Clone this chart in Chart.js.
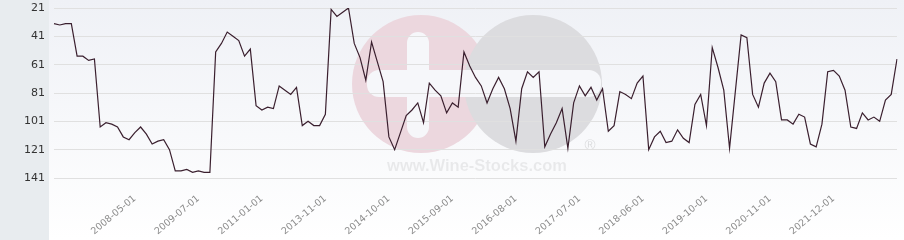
<!DOCTYPE html>
<html>
<head>
<meta charset="utf-8">
<script src="https://cdn.jsdelivr.net/npm/chart.js@4.4.0/dist/chart.umd.min.js"></script>
<style>
  html, body { margin: 0; padding: 0; background: #fff; }
  #wrap { width: 904px; height: 240px; }
</style>
</head>
<body>
<div id="wrap"><canvas id="rankChart" width="904" height="240"></canvas></div>
<script>
// dates of each ranking
const dates = [
  '2007-03-01','2007-04-01','2007-05-01','2007-06-01','2007-07-01','2007-08-01','2007-09-01','2007-10-01',
  '2007-11-01','2007-12-01','2008-01-01','2008-02-01','2008-03-01','2008-04-01','2008-05-01',
  '2008-06-01','2008-07-01','2008-08-01','2008-09-01','2008-10-01','2008-12-01','2009-01-01','2009-02-01',
  '2009-04-01','2009-05-01','2009-07-01',
  '2009-09-01','2009-10-01','2009-12-01','2010-01-01','2010-03-01','2010-05-01','2010-06-01','2010-08-01',
  '2010-09-01','2010-11-01','2011-01-01',
  '2011-04-01','2011-07-01','2011-10-01','2012-01-01','2012-04-01','2012-07-01','2012-10-01','2013-01-01',
  '2013-05-01','2013-08-01','2013-11-01',
  '2013-12-01','2014-01-01','2014-02-01','2014-03-01','2014-04-01','2014-05-01','2014-06-01','2014-07-01',
  '2014-08-01','2014-09-01','2014-10-01',
  '2014-11-01','2014-12-01','2015-01-01','2015-02-01','2015-03-01','2015-04-01','2015-05-01','2015-06-01',
  '2015-07-01','2015-08-01','2015-09-01',
  '2015-10-01','2015-11-01','2015-12-01','2016-01-01','2016-02-01','2016-03-01','2016-04-01','2016-05-01',
  '2016-06-01','2016-07-01','2016-08-01',
  '2016-09-01','2016-10-01','2016-11-01','2016-12-01','2017-01-01','2017-02-01','2017-03-01','2017-04-01',
  '2017-05-01','2017-06-01','2017-07-01',
  '2017-08-01','2017-09-01','2017-10-01','2017-11-01','2017-12-01','2018-01-01','2018-02-01','2018-03-01',
  '2018-04-01','2018-05-01','2018-06-01',
  '2018-07-01','2018-08-01','2018-10-01','2018-11-01','2019-01-01','2019-02-01','2019-04-01','2019-05-01',
  '2019-07-01','2019-08-01','2019-10-01',
  '2019-11-01','2019-12-01','2020-02-01','2020-03-01','2020-04-01','2020-05-01','2020-06-01','2020-07-01',
  '2020-08-01','2020-10-01','2020-11-01',
  '2020-12-01','2021-01-01','2021-02-01','2021-03-01','2021-05-01','2021-06-01','2021-07-01','2021-08-01',
  '2021-09-01','2021-11-01','2021-12-01',
  '2022-01-01','2022-02-01','2022-03-01','2022-04-01','2022-05-01','2022-06-01','2022-07-01','2022-08-01',
  '2022-09-01','2022-10-01','2022-11-01'
];

// rank at each date
const ranks = [
  32, 33, 32, 32, 55, 55, 58, 57, 105, 102, 103, 105, 112, 114, 109,
  105, 110, 117, 115, 114, 121, 136, 136, 135, 137, 136,
  137, 137, 52, 46, 38, 41, 44, 55, 50, 90, 93,
  91, 92, 76, 79, 82, 77, 104, 101, 104, 104, 96,
  22, 27, 24, 21, 46, 56, 72, 45, 59, 73, 112,
  121, 109, 97, 93, 88, 102, 74, 79, 83, 95, 88,
  91, 52, 62, 70, 76, 88, 78, 70, 78, 92, 115,
  78, 66, 70, 66, 119, 110, 102, 92, 120, 88, 76,
  83, 77, 86, 78, 108, 104, 80, 82, 85, 74, 69,
  121, 112, 108, 116, 115, 107, 113, 116, 89, 82, 104,
  49, 63, 79, 120, 80, 40, 42, 82, 91, 74, 67,
  73, 100, 100, 103, 96, 98, 117, 119, 103, 66, 65,
  69, 79, 105, 106, 95, 100, 98, 101, 86, 82, 57
];

const xTickLabels = ['2008-05-01', '2009-07-01', '2011-01-01', '2013-11-01', '2014-10-01', '2015-09-01',
  '2016-08-01', '2017-07-01', '2018-06-01', '2019-10-01', '2020-11-01', '2021-12-01'];
const yTickValues = [21, 41, 61, 81, 101, 121, 141];

// page background + faded logo behind the plot
const backdrop = {
  id: 'backdrop',
  beforeDraw(chart) {
    const c = chart.ctx;
    c.save();
    const g = c.createLinearGradient(0, 0, 0, 240);
    g.addColorStop(0, '#eff1f6');
    g.addColorStop(1, '#ffffff');
    c.fillStyle = g;
    c.fillRect(49, 0, 855, 240);
    c.fillStyle = '#e8ecef';
    c.fillRect(0, 0, 49, 240);

    // logo
    c.fillStyle = '#ecd7de';
    c.beginPath(); c.arc(421, 84, 69, 0, Math.PI * 2); c.fill();
    c.fillStyle = '#dcdcdf';
    c.beginPath(); c.arc(533, 84, 69, 0, Math.PI * 2); c.fill();
    c.fillStyle = '#f6f7fa';
    c.beginPath(); c.roundRect(407, 32, 22, 106, 11); c.fill();
    c.beginPath(); c.roundRect(367, 70, 234, 27, 12); c.fill();

    c.fillStyle = 'rgba(0,0,0,0.07)';
    c.textAlign = 'center';
    c.textBaseline = 'middle';
    let size = 20;
    c.font = 'bold ' + size + 'px "Liberation Sans"';
    size = size * 180 / c.measureText('www.Wine-Stocks.com').width;
    c.font = 'bold ' + size + 'px "Liberation Sans"';
    c.fillText('www.Wine-Stocks.com', 477, 166);
    c.font = '15px "Liberation Sans"';
    c.fillStyle = 'rgba(0,0,0,0.12)';
    c.fillText('®', 590, 146);
    c.restore();
  }
};

new Chart(document.getElementById('rankChart'), {
  type: 'line',
  data: {
    labels: dates,
    datasets: [{
      data: ranks,
      borderColor: '#3a1f2e',
      borderWidth: 1.2,
      pointRadius: 0,
      tension: 0,
      fill: false
    }]
  },
  options: {
    responsive: false,
    animation: false,
    layout: { padding: { top: 8, right: 7, left: 0, bottom: 0 } },
    plugins: { legend: { display: false }, tooltip: { enabled: false } },
    scales: {
      x: {
        type: 'category',
        offset: false,
        grid: { display: false, drawTicks: false },
        border: { display: false },
        ticks: {
          autoSkip: false,
          minRotation: 40,
          maxRotation: 40,
          padding: 15,
          color: '#8c8c8c',
          font: { family: 'DejaVu Sans', size: 9.5 },
          callback: function (v, i) {
            const d = dates[i];
            return xTickLabels.includes(d) ? d : '';
          }
        },
        afterFit: function (s) {
          s.height = 62;
          s.paddingLeft = 0;
          s.paddingRight = 0;
        }
      },
      y: {
        reverse: true,
        min: 21,
        max: 141,
        grid: { color: '#e0e0e0', drawTicks: false },
        border: { display: false },
        ticks: {
          padding: 9,
          color: '#333',
          font: { family: 'DejaVu Sans', size: 11 }
        },
        afterBuildTicks: function (s) { s.ticks = yTickValues.map(v => ({ value: v })); },
        afterFit: function (s) {
          s.width = 54;
          s.paddingTop = 0;
          s.paddingBottom = 0;
        }
      }
    }
  },
  plugins: [backdrop]
});
</script>
</body>
</html>
